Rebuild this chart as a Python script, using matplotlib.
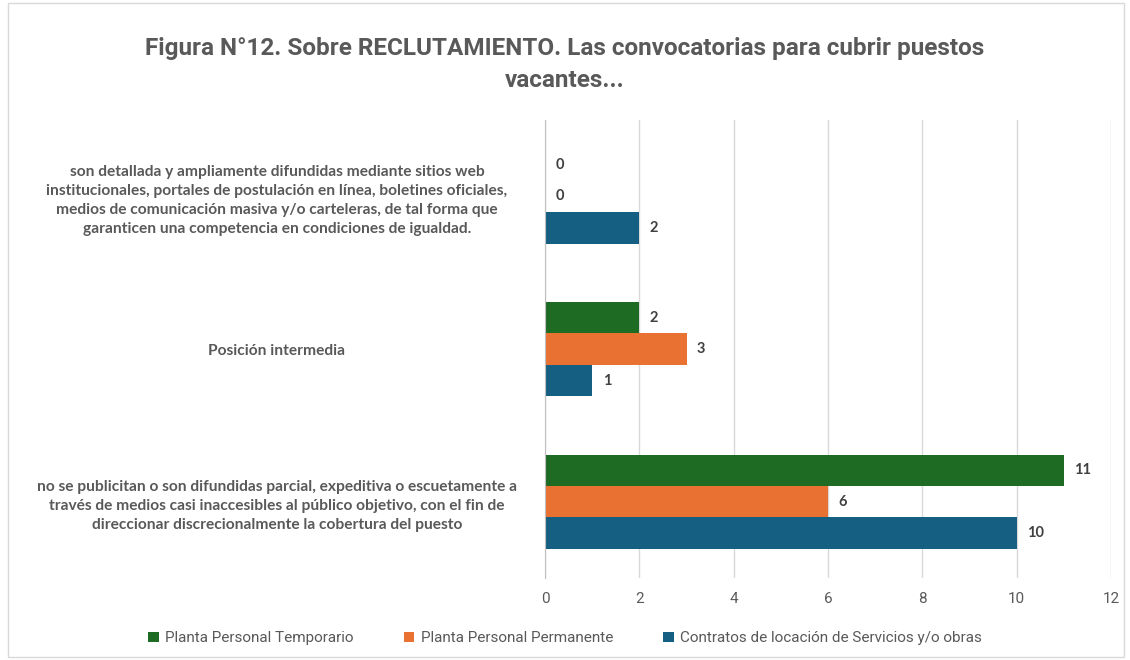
import matplotlib
matplotlib.use("Agg")
import matplotlib.pyplot as plt
import numpy as np
from matplotlib.patches import Rectangle

categories = [
    "no se publicitan o son difundidas parcial, expeditiva o escuetamente a\ntravés de medios casi inaccesibles al público objetivo, con el fin de\ndireccionar discrecionalmente la cobertura del puesto",
    "Posición intermedia",
    "son detallada y ampliamente difundidas mediante sitios web\ninstitucionales, portales de postulación en línea, boletines oficiales,\nmedios de comunicación masiva y/o carteleras, de tal forma que\ngaranticen una competencia en condiciones de igualdad.",
]
series_names = ["Planta Personal Temporario", "Planta Personal Permanente",
                "Contratos de locación de Servicios y/o obras"]
temporario = [11, 2, 0]
permanente = [6, 3, 0]
contratos = [10, 1, 2]
colors = ["#1e6b24", "#e97132", "#156082"]
xticks = [0, 2, 4, 6, 8, 10, 12]

narrow = ["Roboto", "DejaVu Sans"]
body = ["Lato", "DejaVu Sans"]

fig = plt.figure(figsize=(11.3, 6.6), dpi=100)
ax = fig.add_axes([0.4823, 0.1242, 0.5009, 0.6938])

y = np.arange(len(categories))
h = 0.206
offsets = [h, 0, -h]
for vals, off, c, name in zip([temporario, permanente, contratos], offsets, colors, series_names):
    bars = ax.barh(y + off, vals, height=h, color=c, label=name)
    for b, v in zip(bars, vals):
        ax.text(b.get_width() + 0.22, b.get_y() + b.get_height() / 2, str(v),
                va="center", ha="left", fontsize=10.5, fontweight="bold",
                color="#404040", family=body)

ax.set_xlim(0, 12)
ax.set_ylim(-0.5, 2.5)
ax.set_xticks(xticks)
ax.set_xticklabels([str(t) for t in xticks], family=narrow, fontsize=11, color="#595959")
ax.set_yticks(y)
ax.set_yticklabels(categories, family=body, fontsize=11.2, fontweight="bold",
                   color="#595959", ha="center", linespacing=1.45)
ax.tick_params(axis="y", length=0, pad=193)
ax.tick_params(axis="x", length=0, pad=10)
ax.grid(axis="x", color="#d9d9d9", linewidth=1)
ax.set_axisbelow(True)
for s in ["top", "right", "bottom"]:
    ax.spines[s].set_visible(False)
ax.spines["left"].set_color("#bfbfbf")

fig.text(0.5, 0.902, "Figura N°12. Sobre RECLUTAMIENTO. Las convocatorias para cubrir puestos\nvacantes...",
         ha="center", va="center", fontsize=17.5, fontweight="bold", color="#595959",
         family=narrow, linespacing=1.5)

leg = fig.legend(loc="center", bbox_to_anchor=(0.5, 0.033), ncol=3, frameon=False,
                 handlelength=0.7, handleheight=0.7, handletextpad=0.4, columnspacing=3.3,
                 prop={"family": narrow, "size": 11})
for t in leg.get_texts():
    t.set_color("#595959")

fig.patches.append(Rectangle((0.007, 0.005), 0.988, 0.99, transform=fig.transFigure,
                             fill=False, edgecolor="#d9d9d9", linewidth=1))

fig.savefig("out.png", dpi=100)
